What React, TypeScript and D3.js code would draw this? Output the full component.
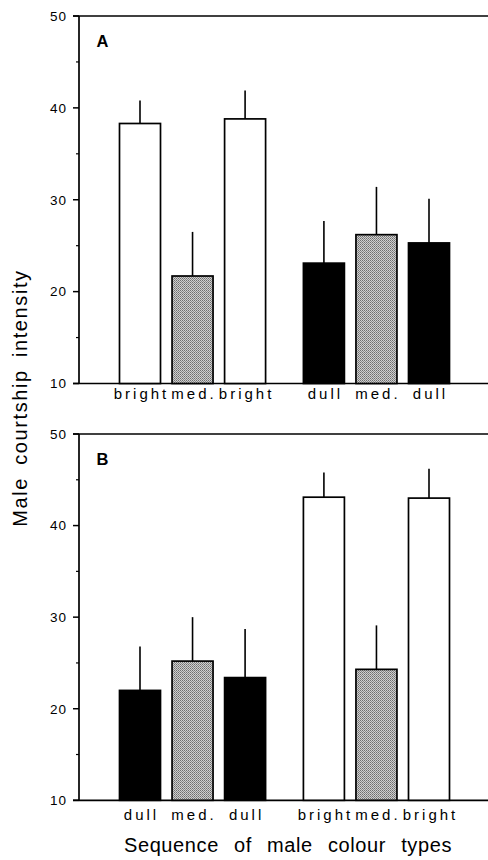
import React from "react";
import * as d3 from "d3";

// ---- data ----
const positions = [0, 1, 2, 3.5, 4.5, 5.5];
const labelsA = ["bright", "med.", "bright", "dull", "med.", "dull"];
const typesA = ["bright", "med", "bright", "dull", "med", "dull"];
const meansA = [38.3, 21.7, 38.8, 23.1, 26.2, 25.3];
const errA = [2.5, 4.8, 3.1, 4.6, 5.2, 4.8];
const labelsB = ["dull", "med.", "dull", "bright", "med.", "bright"];
const typesB = ["dull", "med", "dull", "bright", "med", "bright"];
const meansB = [22.0, 25.2, 23.4, 43.1, 24.3, 43.0];
const errB = [4.8, 4.8, 5.3, 2.7, 4.8, 3.2];
const yTicks = [10, 20, 30, 40, 50];
const yMinor = [15, 25, 35, 45];

const W = 488;
const H = 860;
const FONT = "'Liberation Sans', Arial, Helvetica, sans-serif";

const x = d3.scaleLinear().domain([0, 5.5]).range([140, 429]);
const barW = 41;
const axisX = 79;

const fillFor = (t: string) =>
  t === "bright" ? "#ffffff" : t === "dull" ? "#000000" : "url(#stipple)";

function Panel({
  letter, labels, types, means, errs, y0, y1, labelDy,
}: {
  letter: string; labels: string[]; types: string[]; means: number[]; errs: number[];
  y0: number; y1: number; labelDy: number;
}) {
  const y = d3.scaleLinear().domain([10, 50]).range([y1, y0]);
  return (
    <g>
      <line x1={73} x2={W} y1={y(50)} y2={y(50)} stroke="#000" strokeWidth={1.7} />
      <line x1={73} x2={W} y1={y(10)} y2={y(10)} stroke="#000" strokeWidth={1.7} />
      <line x1={axisX} x2={axisX} y1={y(50)} y2={y(10)} stroke="#000" strokeWidth={1.7} />
      {yTicks.map((t) => (
        <g key={t}>
          <line x1={73} x2={axisX} y1={y(t)} y2={y(t)} stroke="#000" strokeWidth={1.5} />
          <text x={67} y={y(t)} dy="0.36em" textAnchor="end" fontSize={13.5} letterSpacing={1} fontFamily={FONT}>
            {t}
          </text>
        </g>
      ))}
      {yMinor.map((t) => (
        <line key={t} x1={76} x2={axisX} y1={y(t)} y2={y(t)} stroke="#000" strokeWidth={1.2} />
      ))}
      <text x={96.5} y={y0 + 31} fontSize={16.5} fontWeight="bold" fontFamily={FONT}>
        {letter}
      </text>
      {means.map((m, i) => {
        const cx = x(positions[i]);
        return (
          <g key={i}>
            <line x1={cx} x2={cx} y1={y(m)} y2={y(m + errs[i])} stroke="#000" strokeWidth={1.6} />
            <rect
              x={cx - barW / 2}
              y={y(m)}
              width={barW}
              height={y(10) - y(m)}
              fill={fillFor(types[i])}
              stroke="#000"
              strokeWidth={1.7}
            />
            <text
              x={cx + 1.5}
              y={y(10) + labelDy}
              textAnchor="middle"
              fontSize={15}
              letterSpacing={3}
              fontFamily={FONT}
            >
              {labels[i]}
            </text>
          </g>
        );
      })}
    </g>
  );
}

export default function App() {
  return (
    <svg
      width={W}
      height={H}
      viewBox={`0 0 ${W} ${H}`}
      style={{ position: "absolute", left: 0, top: 0, background: "#fff" }}
    >
      <defs>
        <pattern id="stipple" width={2} height={2} patternUnits="userSpaceOnUse">
          <rect width={2} height={2} fill="#cfcfcf" />
          <rect x={0} y={0} width={1} height={1} fill="#6e6e6e" />
          <rect x={1} y={1} width={1} height={1} fill="#8a8a8a" />
        </pattern>
      </defs>
      <rect width={W} height={H} fill="#fff" />
      <Panel letter="A" labels={labelsA} types={typesA} means={meansA} errs={errA} y0={16} y1={383.5} labelDy={15.5} />
      <Panel letter="B" labels={labelsB} types={typesB} means={meansB} errs={errB} y0={434} y1={800.3} labelDy={19.5} />
      <text
        transform={`translate(27,398) rotate(-90)`}
        textAnchor="middle"
        fontSize={20}
        letterSpacing={1.6}
        wordSpacing={5}
        fontFamily={FONT}
      >
        Male courtship intensity
      </text>
      <text x={288} y={852} textAnchor="middle" fontSize={20} letterSpacing={0.6} wordSpacing={9} fontFamily={FONT}>
        Sequence of male colour types
      </text>
    </svg>
  );
}
